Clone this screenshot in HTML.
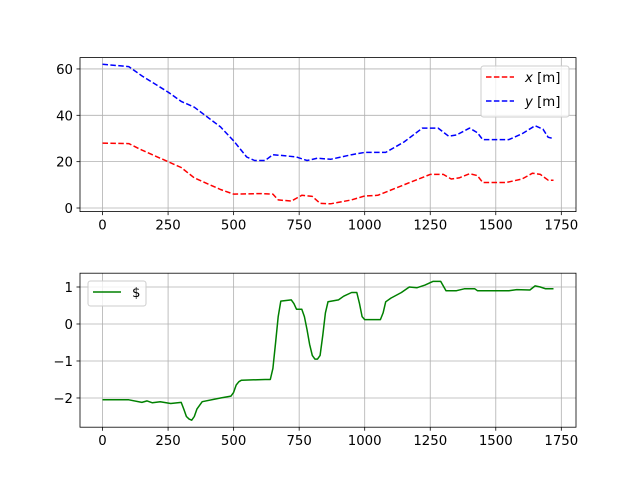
<!DOCTYPE html>
<html><head><meta charset="utf-8"><style>
body{margin:0;background:#fff}
svg{display:block;font-family:"DejaVu Sans","Liberation Sans",sans-serif}
</style></head><body>
<svg id="c" width="640" height="480"></svg>
<script>
const xTicks=[0,250,500,750,1000,1250,1500,1750];
const topYTicks=[0,20,40,60];
const botYTicks=[-2,-1,0,1];
const xsX=[0,100,150,250,300,350,450,500,600,650,670,720,760,800,830,870,950,1000,1050,1150,1250,1300,1330,1360,1400,1430,1450,1540,1600,1640,1670,1700,1720];
const xsVal=[28,27.8,25,20,17.5,13,8,6,6.2,6,3.5,3,5.5,5,2,1.8,3.5,5.2,5.5,10,14.5,14.5,12.5,13,14.8,14,11,11,12.5,15,14.5,12,12];
const ysX=[0,100,150,250,300,350,450,500,550,580,620,650,700,740,780,820,870,950,1000,1080,1150,1220,1280,1320,1350,1400,1430,1450,1550,1600,1650,1680,1700,1720];
const ysVal=[62,61,57,50,46,43.5,35,29,22,20.5,20.5,23,22.5,22,20.5,21.5,21,23,24,24,28.5,34.5,34.5,31,31.5,34.5,32.5,29.5,29.5,32,35.5,34,30.5,30];
const gX=[0,100,150,170,190,220,260,300,310,320,330,340,350,360,380,450,490,500,510,520,530,620,640,650,660,670,680,720,730,740,760,770,780,790,800,810,820,830,840,850,860,900,920,950,970,980,990,1000,1060,1070,1080,1100,1140,1170,1200,1230,1260,1290,1310,1350,1380,1420,1430,1550,1580,1630,1650,1670,1690,1720];
const gVal=[-2.05,-2.05,-2.12,-2.08,-2.13,-2.1,-2.15,-2.12,-2.3,-2.5,-2.57,-2.6,-2.5,-2.3,-2.1,-2.0,-1.95,-1.85,-1.65,-1.56,-1.52,-1.5,-1.5,-1.2,-0.5,0.2,0.62,0.65,0.55,0.4,0.4,0.2,-0.15,-0.55,-0.85,-0.95,-0.95,-0.85,-0.3,0.3,0.6,0.65,0.75,0.85,0.85,0.55,0.2,0.12,0.12,0.3,0.6,0.7,0.85,1.0,0.98,1.05,1.15,1.15,0.9,0.9,0.95,0.95,0.9,0.9,0.93,0.92,1.03,1.0,0.95,0.95];

const S=document.getElementById('c');const NS='http://www.w3.org/2000/svg';
function mk(t,a,p){const e=document.createElementNS(NS,t);for(const k in a)e.setAttribute(k,a[k]);(p||S).appendChild(e);return e;}
const L=80,R=576,xmin=-86,xmax=1806;
const sx=v=>L+(v-xmin)/(xmax-xmin)*(R-L);
function panel(top,bot,ymin,ymax,yt,name){
  const sy=v=>bot-(v-ymin)/(ymax-ymin)*(bot-top);
  const g=mk('g',{});
  
  
  xTicks.forEach(t=>{const x=sx(t);
    mk('line',{x1:x,x2:x,y1:top,y2:bot,stroke:'#b0b0b0','stroke-width':0.8},g);
    mk('line',{x1:x,x2:x,y1:bot,y2:bot+3.5,stroke:'#000','stroke-width':0.8},g);
    const tx=mk('text',{x:x,y:bot+18,'text-anchor':'middle','font-size':13.3},g);tx.textContent=t;
    
    });
  yt.forEach(t=>{const y=sy(t);
    mk('line',{x1:L,x2:R,y1:y,y2:y,stroke:'#b0b0b0','stroke-width':0.8},g);
    mk('line',{x1:L-3.5,x2:L,y1:y,y2:y,stroke:'#000','stroke-width':0.8},g);
    const tx=mk('text',{x:L-7,y:y+5,'text-anchor':'end','font-size':13.3},g);tx.textContent=String(t).replace('-','\u2212');
    
    });
  return {g,sy};
}
function line(p,xs,vs,col,dash,name){
  const d=xs.map((x,i)=>(i?'L':'M')+sx(x).toFixed(1)+','+p.sy(vs[i]).toFixed(1)).join('');
  const a={d:d,fill:'none',stroke:col,'stroke-width':1.5,'stroke-linejoin':'round'};
  if(dash)a['stroke-dasharray']='5.5,2.4';
  const e=mk('path',a,p.g);
  
  
}
const p1=panel(57.6,211.6,-1.55,64.9,topYTicks,'top-chart');
line(p1,xsX,xsVal,'#ff0000',true,'x-series');
line(p1,ysX,ysVal,'#0000ff',true,'y-series');
mk('rect',{x:L,y:57.6,width:R-L,height:154,fill:'none',stroke:'#000','stroke-width':0.8},p1.g);
const lg1=mk('g',{},p1.g);


mk('rect',{x:481,y:66,width:88,height:51,rx:2.5,fill:'#fff','fill-opacity':0.8,stroke:'#ccc'},lg1);
mk('line',{x1:486,x2:514,y1:77,y2:77,stroke:'#f00','stroke-width':1.5,'stroke-dasharray':'5.5,2.4'},lg1);
mk('line',{x1:486,x2:514,y1:101,y2:101,stroke:'#00f','stroke-width':1.5,'stroke-dasharray':'5.5,2.4'},lg1);
let t=mk('text',{x:525,y:82,'font-size':13.3},lg1);t.innerHTML='<tspan font-style="italic">x</tspan> [m]';
t=mk('text',{x:525,y:106,'font-size':13.3},lg1);t.innerHTML='<tspan font-style="italic">y</tspan> [m]';

const p2=panel(273.2,427.2,-2.79,1.373,botYTicks,'bottom-chart');
line(p2,gX,gVal,'#008000',false,'dollar-series');
mk('rect',{x:L,y:273.2,width:R-L,height:154,fill:'none',stroke:'#000','stroke-width':0.8},p2.g);
const lg2=mk('g',{},p2.g);


mk('rect',{x:88,y:281,width:58,height:25,rx:2.5,fill:'#fff','fill-opacity':0.8,stroke:'#ccc'},lg2);
mk('line',{x1:93,x2:121,y1:292,y2:292,stroke:'#008000','stroke-width':1.5},lg2);
t=mk('text',{x:132,y:297,'font-size':13.3},lg2);t.textContent='$';
</script>
</body></html>
